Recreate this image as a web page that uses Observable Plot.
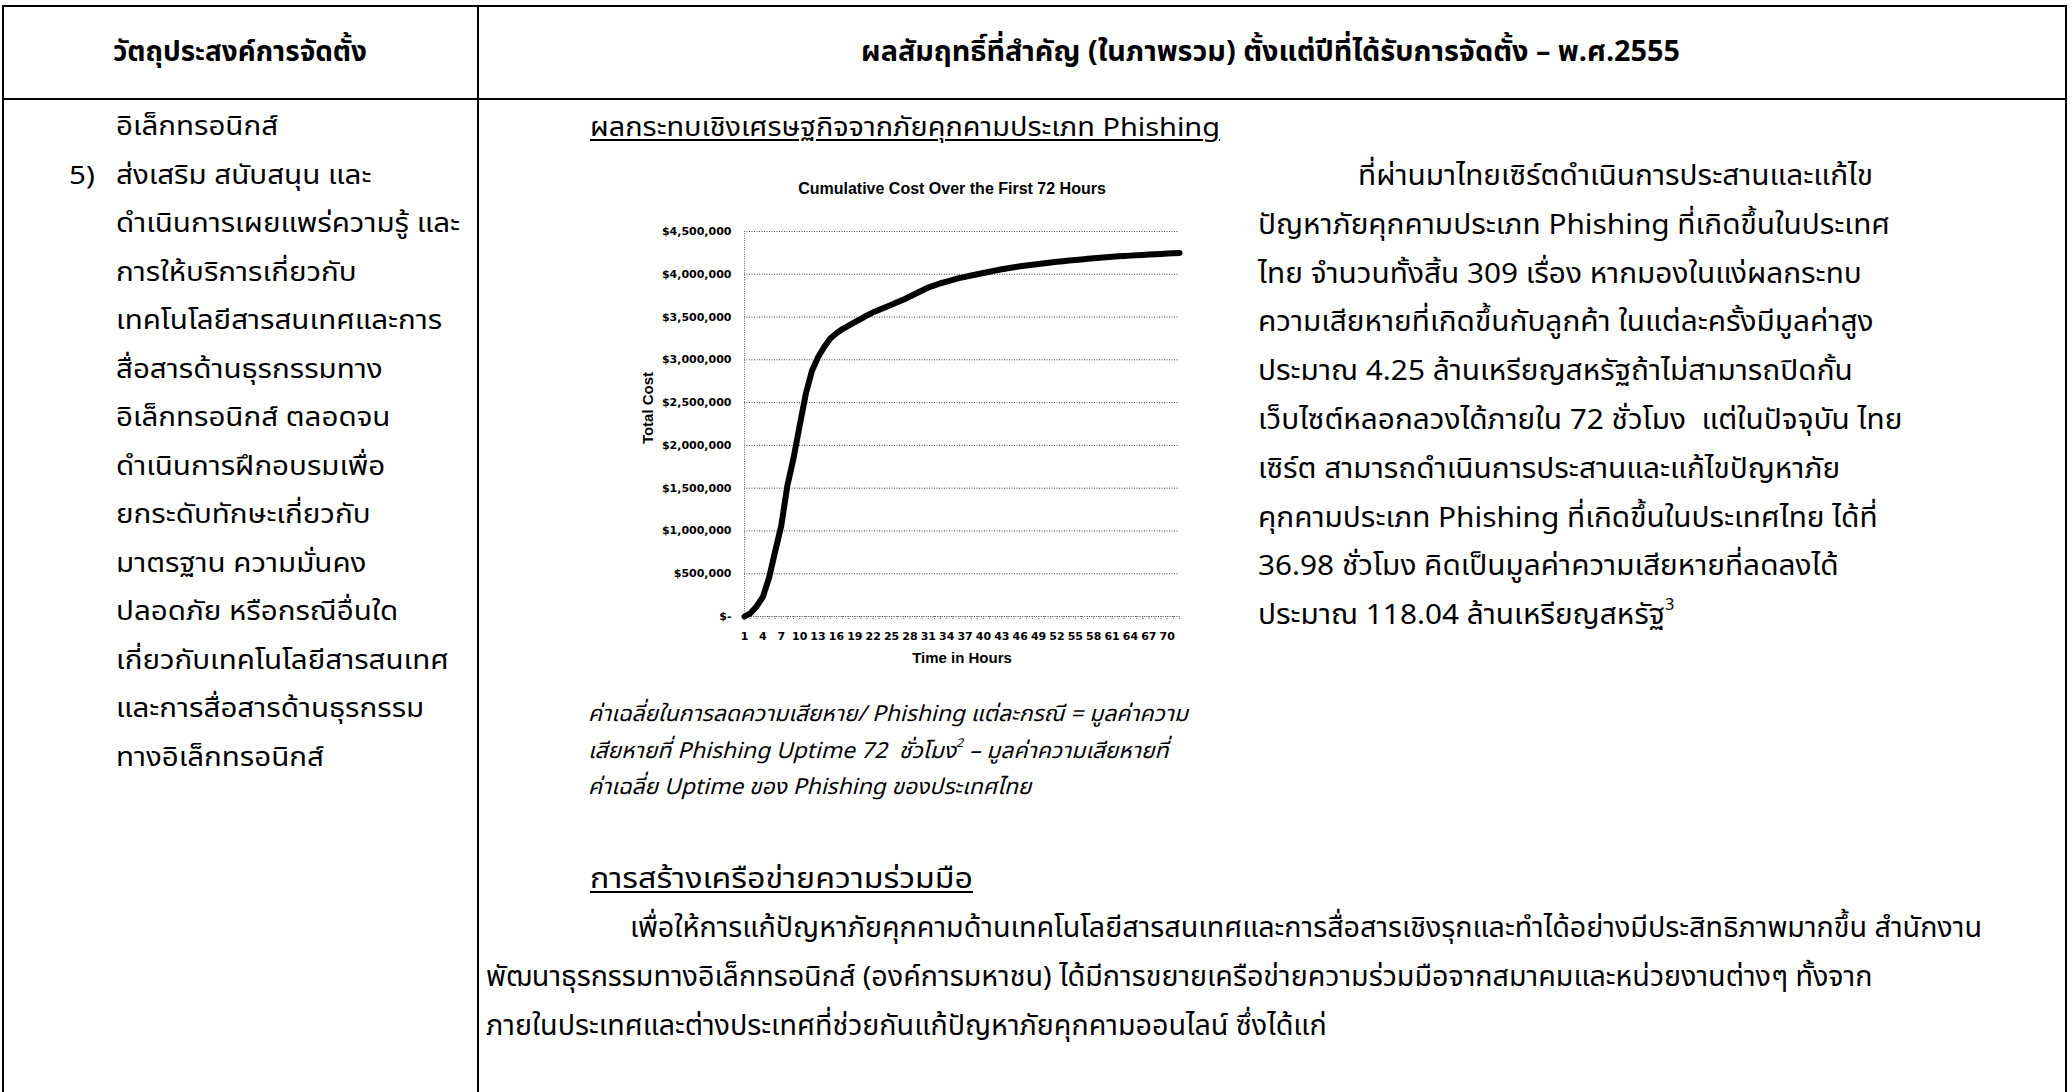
<!DOCTYPE html>
<html><head><meta charset="utf-8">
<script src="https://cdn.jsdelivr.net/npm/d3@7"></script>
<script src="https://cdn.jsdelivr.net/npm/@observablehq/plot@0.6"></script>
<style>
html,body{margin:0;padding:0;background:#fff;}
#page{position:relative;width:2072px;height:1092px;overflow:hidden;background:#fff;color:#000;
  font-family:"Noto Sans Thai","Noto Sans Thai UI","Loma","Garuda","Waree","Tahoma","DejaVu Sans",sans-serif;}
.ln{position:absolute;background:#000;}
.t{position:absolute;white-space:nowrap;line-height:40px;height:40px;transform-origin:0 50%;}
.lc{font-size:26px;}
.rp{font-size:28px;}
.cap{font-size:22px;font-style:italic;}
.hd{font-size:29px;font-weight:bold;}
.u{text-decoration:underline;text-underline-offset:3px;text-decoration-thickness:1.5px;}
sup{font-size:0.55em;line-height:0;vertical-align:0.9em;}
#chart{position:absolute;left:630px;top:200px;}
#ctitle{position:absolute;left:752px;width:400px;top:180px;text-align:center;font:bold 16px "Liberation Sans",Arial,sans-serif;white-space:nowrap;}
</style></head>
<body><div id="page">
  <div class="ln" style="left:2px;top:5px;width:2065px;height:2px"></div>
  <div class="ln" style="left:2px;top:98px;width:2065px;height:2px"></div>
  <div class="ln" style="left:2px;top:5px;width:2px;height:1087px"></div>
  <div class="ln" style="left:477px;top:5px;width:2px;height:1087px"></div>
  <div class="ln" style="left:2065px;top:5px;width:2px;height:1087px"></div>
  <div id="ctitle"></div>
  <div id="chart"></div>
</div>
<script>
// ---- chart data ----
const hours = [1,2,3,4,5,6,7,8,9,10,11,12,13,14,15,16,17,18,19,20,21,22,23,24,25,26,27,28,29,30,31,32,33,34,35,36,
  37,38,39,40,41,42,43,44,45,46,47,48,49,50,51,52,53,54,55,56,57,58,59,60,61,62,63,64,65,66,67,68,69,70,71,72];
const totalCost = [0,40000,120000,230000,450000,760000,1060000,1530000,1850000,2230000,2600000,2870000,
  3030000,3150000,3250000,3310000,3360000,3400000,3440000,3480000,3520000,3555000,3585000,3615000,
  3645000,3675000,3705000,3740000,3775000,3810000,3845000,3870000,3895000,3915000,3935000,3955000,
  3970000,3985000,4000000,4015000,4030000,4045000,4058000,4070000,4082000,4093000,4103000,4112000,
  4121000,4130000,4138000,4146000,4153000,4160000,4167000,4174000,4181000,4188000,4194000,4200000,
  4205000,4210000,4214000,4218000,4222000,4226000,4230000,4234000,4238000,4242000,4246000,4250000];
const xTickLabels = [1,4,7,10,13,16,19,22,25,28,31,34,37,40,43,46,49,52,55,58,61,64,67,70];
const yTicks = [0,500000,1000000,1500000,2000000,2500000,3000000,3500000,4000000,4500000];
const chartTitle = "Cumulative Cost Over the First 72 Hours";
const yLabel = "Total Cost";
const xLabel = "Time in Hours";

// ---- page texts ----
const headLeft = "วัตถุประสงค์การจัดตั้ง";
const headRight = "ผลสัมฤทธิ์ที่สำคัญ (ในภาพรวม) ตั้งแต่ปีที่ได้รับการจัดตั้ง – พ.ศ.2555";
const leftLines = ["อิเล็กทรอนิกส์","ส่งเสริม สนับสนุน และ","ดำเนินการเผยแพร่ความรู้ และ","การให้บริการเกี่ยวกับ",
  "เทคโนโลยีสารสนเทศและการ","สื่อสารด้านธุรกรรมทาง","อิเล็กทรอนิกส์ ตลอดจน","ดำเนินการฝึกอบรมเพื่อ",
  "ยกระดับทักษะเกี่ยวกับ","มาตรฐาน ความมั่นคง","ปลอดภัย หรือกรณีอื่นใด","เกี่ยวกับเทคโนโลยีสารสนเทศ",
  "และการสื่อสารด้านธุรกรรม","ทางอิเล็กทรอนิกส์"];
const section1 = "ผลกระทบเชิงเศรษฐกิจจากภัยคุกคามประเภท Phishing";
const rightLines = ["ที่ผ่านมาไทยเซิร์ตดำเนินการประสานและแก้ไข","ปัญหาภัยคุกคามประเภท Phishing ที่เกิดขึ้นในประเทศ",
  "ไทย จำนวนทั้งสิ้น 309 เรื่อง หากมองในแง่ผลกระทบ","ความเสียหายที่เกิดขึ้นกับลูกค้า ในแต่ละครั้งมีมูลค่าสูง",
  "ประมาณ 4.25 ล้านเหรียญสหรัฐถ้าไม่สามารถปิดกั้น","เว็บไซต์หลอกลวงได้ภายใน 72 ชั่วโมง&nbsp; แต่ในปัจจุบัน ไทย",
  "เซิร์ต สามารถดำเนินการประสานและแก้ไขปัญหาภัย","คุกคามประเภท Phishing ที่เกิดขึ้นในประเทศไทย ได้ที่",
  "36.98 ชั่วโมง คิดเป็นมูลค่าความเสียหายที่ลดลงได้","ประมาณ 118.04 ล้านเหรียญสหรัฐ<sup>3</sup>"];
const capLines = ["ค่าเฉลี่ยในการลดความเสียหาย/ Phishing แต่ละกรณี = มูลค่าความ",
  "เสียหายที่ Phishing Uptime 72&nbsp; ชั่วโมง<sup>2</sup> – มูลค่าความเสียหายที่",
  "ค่าเฉลี่ย Uptime ของ Phishing ของประเทศไทย"];
const section2 = "การสร้างเครือข่ายความร่วมมือ";
const bottomLines = ["เพื่อให้การแก้ปัญหาภัยคุกคามด้านเทคโนโลยีสารสนเทศและการสื่อสารเชิงรุกและทำได้อย่างมีประสิทธิภาพมากขึ้น สำนักงาน",
  "พัฒนาธุรกรรมทางอิเล็กทรอนิกส์ (องค์การมหาชน) ได้มีการขยายเครือข่ายความร่วมมือจากสมาคมและหน่วยงานต่างๆ ทั้งจาก",
  "ภายในประเทศและต่างประเทศที่ช่วยกันแก้ปัญหาภัยคุกคามออนไลน์ ซึ่งได้แก่"];

const page = document.getElementById("page");
function add(html, cls, x, cy){
  const d = document.createElement("div");
  d.className = "t " + cls; d.innerHTML = html;
  d.style.left = x + "px"; d.style.top = (cy - 20) + "px";
  page.appendChild(d); return d;
}
function fit(els, ref, w){ const s = w / ref.getBoundingClientRect().width; els.forEach(e => e.style.transform = `scaleX(${s})`); }
function center(el, cx, w){ fit([el], el, w); el.style.left = (cx - w/2) + "px"; }

center(add(headLeft, "hd", 0, 52), 240, 254);
center(add(headRight, "hd", 0, 52), 1270, 819);

const lc = leftLines.map((s,i) => add(s, "lc", 116, 127 + 48.5*i));
const five = add("5)", "lc", 69, 127 + 48.5);
fit(lc.concat([five]), lc[2], 344);

const s1 = add(section1, "lc u", 590, 128); fit([s1], s1, 630);
const rp = rightLines.map((s,i) => add(s, "rp", i === 0 ? 1358 : 1258, 177 + 48.8*i));
fit(rp, rp[1], 632);
const cp = capLines.map((s,i) => add(s, "cap", 588, 715 + 36.5*i));
fit(cp, cp[0], 600);
const s2 = add(section2, "rp u", 590, 880); fit([s2], s2, 383);
const bp = bottomLines.map((s,i) => add(s, "rp", i === 0 ? 630 : 486, 929 + 49*i));
fit(bp, bp[0], 1352);

// ---- chart ----
const fmt = d3.format(",");
const chart = Plot.plot({
  width: 570, height: 480,
  marginLeft: 114, marginRight: 21, marginTop: 31, marginBottom: 64,
  style: {fontFamily: "'DejaVu Sans', sans-serif", fontSize: "11px", background: "transparent", overflow: "visible"},
  x: {type: "linear", domain: [1, 72]},
  y: {domain: [0, 4500000]},
  marks: [
    Plot.gridY(yTicks.slice(1), {stroke: "#444", strokeOpacity: 1, strokeDasharray: "1,1.5"}),
    Plot.ruleX([1], {stroke: "#666", strokeDasharray: "1,1.3"}),
    Plot.ruleY([0], {stroke: "#444", strokeDasharray: "1,1.3"}),
    Plot.axisX(hours, {tickSize: 4, tickFormat: () => "", stroke: "#666", strokeDasharray: "1,1"}),
    Plot.axisX(xTickLabels, {tickSize: 0, tickPadding: 16, fontWeight: "bold", label: null, tickFormat: d => String(d)}),
    Plot.axisY(yTicks, {tickSize: 0, tickPadding: 13, fontWeight: "bold", label: null,
      tickFormat: d => d === 0 ? "$-" : "$" + fmt(d)}),
    Plot.text([yLabel], {frameAnchor: "left", textAnchor: "middle", dx: -96, dy: -16, rotate: -90,
      fontSize: 15, fontWeight: "bold", fontFamily: "'Liberation Sans', Arial, sans-serif"}),
    Plot.text([xLabel], {frameAnchor: "bottom", dy: 46, fontSize: 15, fontWeight: "bold",
      fontFamily: "'Liberation Sans', Arial, sans-serif"}),
    Plot.line(hours, {x: d => d, y: (d, i) => totalCost[i], stroke: "#000", strokeWidth: 6, strokeLinejoin: "round", strokeLinecap: "round"})
  ]
});
document.getElementById("chart").appendChild(chart);
document.getElementById("ctitle").textContent = chartTitle;
</script>
</body></html>
